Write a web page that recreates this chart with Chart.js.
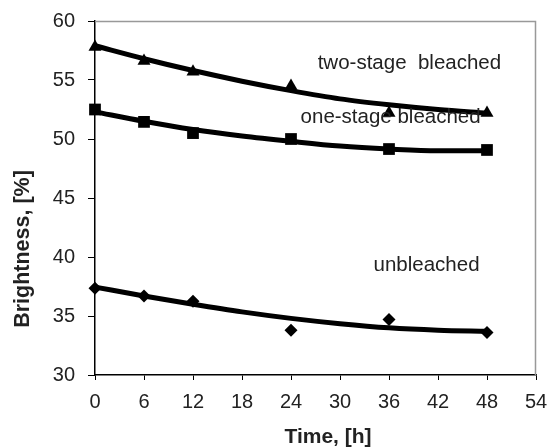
<!DOCTYPE html>
<html>
<head>
<meta charset="utf-8">
<script src="https://cdn.jsdelivr.net/npm/chart.js@4"></script>
<style>
html,body{margin:0;padding:0;background:#fff;}
#wrap{width:548px;height:448px;}
</style>
</head>
<body>
<div id="wrap"><canvas id="c" width="548" height="448"></canvas></div>
<script>
// Data
const times = [0, 6, 12, 24, 36, 48];
const twoStage = [57.8, 56.6, 55.7, 54.5, 52.2, 52.2];
const oneStage = [52.5, 51.45, 50.5, 50.0, 49.15, 49.07];
const unbleached = [37.35, 36.7, 36.25, 33.8, 34.7, 33.6];

// Trend curves
const trendTimes = [0, 6, 12, 18, 24, 30, 36, 42, 48];
const twoStageTrend = [57.9, 56.8, 55.8, 54.9, 54.1, 53.4, 52.9, 52.5, 52.2];
const oneStageTrend = [52.3, 51.5, 50.8, 50.25, 49.8, 49.4, 49.15, 49.0, 49.0];
const unbleachedTrend = [37.45, 36.7, 36.0, 35.35, 34.8, 34.35, 34.0, 33.8, 33.7];

const xTicks = [0, 6, 12, 18, 24, 30, 36, 42, 48, 54];
const yTicks = [30, 35, 40, 45, 50, 55, 60];

const xTitle = 'Time, [h]';
const yTitle = 'Brightness, [%]';
const seriesLabels = ["two-stage  bleached", "one-stage bleached", "unbleached"];
// anchors in data units for the text labels
const labelAnchors = [[38.5, 56.45], [36.2, 51.85], [40.6, 39.3]];

const FONT = '"Liberation Sans", Arial, sans-serif';
const pts = (xs, ys) => xs.map((x, i) => ({x: x, y: ys[i]}));

const trendDs = (ys) => ({
  type: 'line', data: pts(trendTimes, ys), borderColor: '#000', borderWidth: 5,
  pointRadius: 0, cubicInterpolationMode: 'monotone', fill: false, order: 2, clip: false
});
const markDs = (ys, style, r) => ({
  type: 'scatter', data: pts(times, ys), pointStyle: style, pointRadius: r,
  backgroundColor: '#000', borderColor: '#000', borderWidth: 0, order: 1, clip: false
});

const frame = {
  id: 'frame',
  beforeDatasetsDraw(chart) {
    const {ctx, chartArea: a} = chart;
    ctx.save();
    ctx.strokeStyle = '#999';
    ctx.lineWidth = 1.5;
    ctx.beginPath();
    ctx.moveTo(a.left, a.top + 0.5);
    ctx.lineTo(a.right - 0.5, a.top + 0.5);
    ctx.lineTo(a.right - 0.5, a.bottom);
    ctx.stroke();
    ctx.restore();
  },
  afterDraw(chart) {
    const {ctx, chartArea: a} = chart;
    ctx.save();
    ctx.fillStyle = '#222';
    ctx.textAlign = 'center';
    ctx.textBaseline = 'middle';
    ctx.font = '20.5px ' + FONT;
    const xs = chart.scales.x, ys = chart.scales.y;
    seriesLabels.forEach((t, i) => {
      ctx.fillText(t, xs.getPixelForValue(labelAnchors[i][0]), ys.getPixelForValue(labelAnchors[i][1]));
    });
    // axis titles
    ctx.font = 'bold 21px ' + FONT;
    ctx.fillText(xTitle, 328, 437);
    ctx.translate(23, 249);
    ctx.rotate(-Math.PI / 2);
    ctx.font = 'bold 21.5px ' + FONT;
    ctx.fillText(yTitle, 0, 0);
    ctx.restore();
  }
};

new Chart(document.getElementById('c'), {
  data: {
    datasets: [
      trendDs(twoStageTrend), trendDs(oneStageTrend), trendDs(unbleachedTrend),
      markDs(twoStage, 'triangle', 7.5), markDs(oneStage, 'rect', 8.3), markDs(unbleached, 'rectRot', 6.5)
    ]
  },
  options: {
    responsive: false, animation: false, devicePixelRatio: 1,
    layout: {padding: {top: 21, right: 12, left: 0, bottom: 0}},
    plugins: {legend: {display: false}, tooltip: {enabled: false}},
    scales: {
      x: {
        type: 'linear', min: 0, max: 54,
        afterBuildTicks: s => { s.ticks = xTicks.map(v => ({value: v})); },
        afterFit: s => { s.height = 73; s.paddingLeft = 0; s.paddingRight = 0; },
        grid: {drawOnChartArea: false, drawTicks: true, tickLength: 5, color: '#000', lineWidth: 1},
        border: {color: '#000', width: 1.5},
        ticks: {color: '#222', font: {family: FONT, size: 20}, padding: 10, maxRotation: 0},
        title: {display: false}
      },
      y: {
        type: 'linear', min: 30, max: 60,
        afterBuildTicks: s => { s.ticks = yTicks.map(v => ({value: v})); },
        afterFit: s => { s.width = 95; s.paddingTop = 0; s.paddingBottom = 0; },
        grid: {drawOnChartArea: false, drawTicks: true, tickLength: 7, color: '#000', lineWidth: 1},
        border: {color: '#000', width: 1.5},
        ticks: {color: '#222', font: {family: FONT, size: 20}, padding: 13},
        title: {display: false}
      }
    }
  },
  plugins: [frame]
});
</script>
</body>
</html>
